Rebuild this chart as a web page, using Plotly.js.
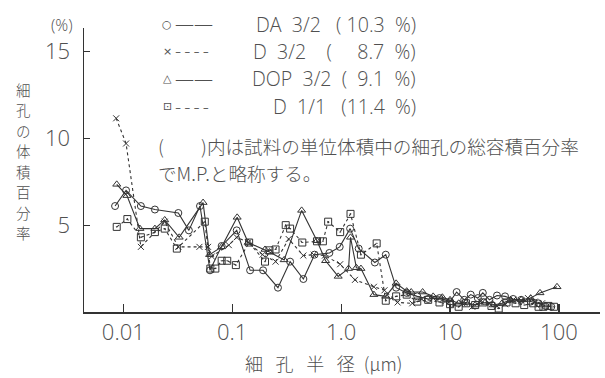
<!DOCTYPE html>
<html><head><meta charset="utf-8">
<script src="https://cdn.plot.ly/plotly-3.0.1.min.js"></script>
<style>body{margin:0;background:#fff}</style>
</head><body><div id="chart" style="width:605px;height:378px"></div>
<script>
// ---- data ----
const seriesNames = ['DA 3/2', 'D 3/2', 'DOP 3/2', 'D 1/1'];
const NB = '\u00a0';
const legendLabels = [
  'DA' + NB + NB + '3/2' + NB + NB + NB + '(' + NB + '10.3' + NB + NB + '%)',
  'D' + NB + NB + '3/2' + NB + NB + NB + NB + '(' + NB + NB + NB + NB + NB + '8.7' + NB + NB + '%)',
  'DOP' + NB + NB + '3/2' + NB + NB + '(' + NB + NB + '9.1' + NB + NB + '%)',
  'D' + NB + NB + '1/1' + NB + NB + NB + '(11.4' + NB + NB + '%)'
];

const xDA = [0.0084,0.0106,0.0145,0.0195,0.032,0.040,0.0506,0.0625,0.080,0.11,0.146,0.192,0.263,0.34,0.45,0.57,0.78,0.97,1.21,1.45,2.04,2.57,3.2,4.0,5.0,6.3,8.0,10,11.5,13.5,15.5,18,20,23,27,32,38,45,55,65,75,85];
const yDA = [6.1,7.0,6.1,5.9,5.7,4.7,6.1,2.4,3.8,4.7,2.4,2.4,1.4,2.9,1.9,3.3,3.4,3.75,4.8,3.65,2.85,3.3,1.4,1.1,0.9,0.75,0.8,0.6,1.15,0.7,1.0,0.8,1.1,0.7,0.95,0.9,0.75,0.7,0.6,0.5,0.35,0.3];

const xD32 = [0.0086,0.0106,0.0145,0.024,0.032,0.050,0.060,0.065,0.093,0.11,0.14,0.19,0.25,0.33,0.45,0.56,0.71,0.98,1.34,2.0,2.5,3.3,4.5,5.5,7,9,11,13,16,19,23,27,32,38,45,52,60,70];
const yD32 = [11.15,9.7,3.75,5.2,3.75,3.75,3.75,3.2,3.85,4.3,4.0,3.3,2.9,4.2,3.25,3.3,3.25,2.75,1.85,1.45,1.25,0.55,0.5,0.75,0.8,0.6,0.45,0.5,0.3,0.6,0.5,0.35,0.45,0.7,0.65,0.8,0.6,0.5];

const xDOP = [0.0087,0.0108,0.0142,0.0195,0.024,0.0326,0.054,0.062,0.08,0.111,0.14,0.2,0.22,0.30,0.434,0.6,0.72,0.94,1.17,1.22,1.38,1.52,2.0,2.57,3.2,4.0,4.4,5.6,7,8.5,10,12,14,17,21,25,30,36,45,55,67,96];
const yDOP = [7.35,6.7,4.8,4.8,5.3,4.3,6.3,3.3,3.75,5.45,4.0,3.6,3.45,3.0,5.85,4.1,2.95,2.05,2.5,4.3,2.55,2.5,1.0,0.9,1.65,1.2,1.15,1.15,0.9,0.85,0.7,0.5,0.55,0.4,0.55,0.4,0.5,0.7,0.7,0.8,1.1,1.45];

const xD11 = [0.0087,0.0109,0.0145,0.0195,0.024,0.031,0.056,0.063,0.07,0.08,0.09,0.108,0.143,0.2,0.22,0.25,0.31,0.34,0.44,0.6,0.68,0.76,0.98,1.22,1.52,2.12,2.57,3.2,4.0,5.0,6.3,8,10,12,14,17,20,24,28,33,40,48,58,65,72,80,90];
const yD11 = [4.9,5.35,4.3,4.6,4.8,3.65,5.2,2.5,2.5,2.95,2.95,2.7,4.0,2.9,3.55,3.6,5.0,4.8,4.0,4.07,4.07,5.2,4.6,5.65,3.3,3.95,0.65,0.9,1.0,0.6,0.7,0.55,0.45,0.3,0.5,0.4,0.55,0.35,0.2,0.55,0.5,0.4,0.5,0.3,0.3,0.35,0.3];

const xTickVals = [0.01, 0.1, 1, 10, 100];
const xTickText = ['0.01', '0.1', '1.0', '10', '100'];
const yTickVals = [5, 10, 15];
const yTickText = ['5', '10', '15'];
const yTitleText = '細孔の体積百分率';
const xTitleText = '細\u2002\u2009孔\u2002\u2009半\u2002\u2009径\u2002(μm)';
const noteLine1 = '(\u3000\u3000)内は試料の単位体積中の細孔の総容積百分率';
const noteLine2 = 'でM.P.と略称する。';

// ---- styling ----
const INK = '#333';
const TXT = '#505050';
const LAT = 'Open Sans, DejaVu Sans, sans-serif';
const CJK = 'Noto Sans CJK JP, sans-serif';
const symbols = ['circle-open', 'x-thin-open', 'triangle-up-open', 'square-open-dot'];
const dashes = ['solid', '3px,3px', 'solid', '3px,3px'];
const glyphs = ['○', '×', '△', '⊡'];
const xs = [xDA, xD32, xDOP, xD11];
const ys = [yDA, yD32, yDOP, yD11];

const traces = xs.map((x, i) => ({
  x: x, y: ys[i], name: seriesNames[i], type: 'scatter', mode: 'lines+markers',
  line: {color: INK, width: 1.1, dash: dashes[i]},
  marker: {symbol: symbols[i], size: i === 1 ? 6 : 7, color: INK, line: {width: 1, color: INK}},
  showlegend: false, hoverinfo: 'x+y+name'
}));

// pixel helpers for annotation placement (margins l=84,t=28, plot 516x284)
const PX = px => (px - 84) / 516;
const PY = py => (312 - py) / 284;

const ann = [];
ann.push({xref:'paper', yref:'paper', x:PX(62), y:PY(25), text:'(%)', showarrow:false,
  font:{family:LAT, size:16, color:TXT, weight:300}, xanchor:'center', yanchor:'middle'});
// vertical, stacked y-axis title: one character per row
yTitleText.split('').forEach((ch, k) => {
  ann.push({xref:'paper', yref:'paper', x:PX(23), y:PY(89 + k * 20.5), text:ch, showarrow:false,
    font:{family:CJK, size:14.5, color:TXT, weight:300}, xanchor:'center', yanchor:'middle'});
});
const rowY = [24, 51, 78.5, 107];
const lineGlyph = ['——', '-\u2009-\u2009-\u2009-', '——', '-\u2009-\u2009-\u2009-'];
legendLabels.forEach((lab, i) => {
  ann.push({xref:'paper', yref:'paper', x:PX(167), y:PY(rowY[i]), text:glyphs[i], showarrow:false,
    font:{family:'DejaVu Sans', size:11, color:TXT}, xanchor:'center', yanchor:'middle'});
  ann.push({xref:'paper', yref:'paper', x:PX(173), y:PY(rowY[i]), text:lineGlyph[i], showarrow:false,
    font:{family:LAT, size:19, color:TXT, weight:300}, xanchor:'left', yanchor:'middle'});
  ann.push({xref:'paper', yref:'paper', x:PX(418), y:PY(rowY[i]), text:lab, showarrow:false,
    font:{family:LAT, size:19.6, color:TXT, weight:300}, xanchor:'right', yanchor:'middle'});
});
ann.push({xref:'paper', yref:'paper', x:PX(156), y:PY(145), text:noteLine1, showarrow:false,
  font:{family:CJK, size:18.6, color:TXT, weight:300}, xanchor:'left', yanchor:'middle'});
ann.push({xref:'paper', yref:'paper', x:PX(156), y:PY(172), text:noteLine2, showarrow:false,
  font:{family:CJK, size:18.6, color:TXT, weight:300}, xanchor:'left', yanchor:'middle'});
// x-axis title placed to match the reference
ann.push({xref:'paper', yref:'paper', x:PX(243), y:PY(363), text:xTitleText, showarrow:false,
  font:{family:CJK, size:18, color:TXT, weight:300}, xanchor:'left', yanchor:'middle'});

const layout = {
  width: 605, height: 378,
  margin: {l: 84, r: 5, t: 28, b: 66},
  paper_bgcolor: '#fff', plot_bgcolor: '#fff',
  xaxis: {
    type: 'log', range: [-2.361, 2.377], tickvals: xTickVals, ticktext: xTickText,
    ticks: 'inside', ticklen: 8, tickcolor: INK, tickwidth: 1.2,
    showline: true, linecolor: INK, linewidth: 1.5, showgrid: false, zeroline: false,
    tickfont: {family: LAT, size: 22, color: TXT, weight: 300}
  },
  yaxis: {
    range: [0, 16.35], tickvals: yTickVals, ticktext: yTickText,
    ticks: 'inside', ticklen: 6, tickcolor: INK, tickwidth: 1.2,
    showline: true, linecolor: INK, linewidth: 1.5, showgrid: false, zeroline: false,
    tickfont: {family: LAT, size: 22, color: TXT, weight: 300}, ticklabelstandoff: 8
  },
  annotations: ann
};

Plotly.newPlot('chart', traces, layout, {staticPlot: true, displayModeBar: false});
</script></body></html>
